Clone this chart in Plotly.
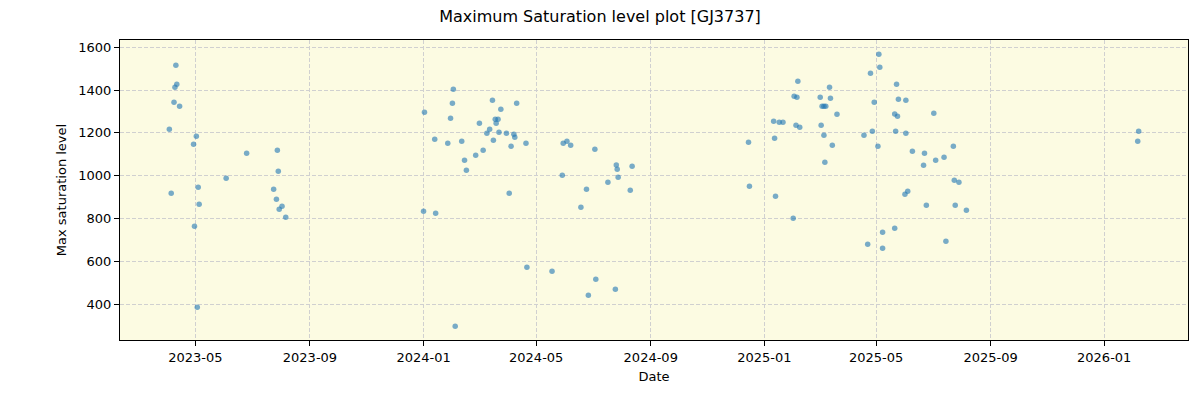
import plotly.graph_objects as go

dates = [
    "2023-04-10", "2023-04-11", "2023-04-09", "2023-04-08", "2023-04-14", "2023-04-03",
    "2023-05-02", "2023-04-29", "2023-06-25", "2023-07-28", "2023-07-29", "2023-06-03",
    "2023-05-04", "2023-04-05", "2023-07-24", "2023-07-27", "2023-05-05", "2023-08-02",
    "2023-07-30", "2023-08-06", "2023-04-30", "2023-05-03",
    "2024-02-02", "2024-02-01", "2024-03-15", "2024-04-10", "2024-01-02", "2024-03-24",
    "2024-01-30", "2024-03-01", "2024-03-18", "2024-03-21", "2024-03-19", "2024-03-12",
    "2024-03-09", "2024-03-22", "2024-03-30", "2024-04-07", "2024-04-08", "2024-01-13",
    "2024-02-11", "2024-01-27", "2024-03-16", "2024-04-20", "2024-04-04", "2024-03-05",
    "2024-02-26", "2024-02-14", "2024-02-16", "2024-04-02", "2024-01-01", "2024-01-14",
    "2024-04-21", "2024-05-18", "2024-02-04",
    "2024-05-30", "2024-06-03", "2024-06-07", "2024-07-03", "2024-07-26", "2024-07-27",
    "2024-08-12", "2024-05-29", "2024-07-28", "2024-07-17", "2024-06-24", "2024-08-10",
    "2024-06-18", "2024-07-04", "2024-07-25", "2024-06-26", "2024-12-15", "2024-12-16",
    "2025-05-04", "2025-05-05", "2025-04-25", "2025-02-06", "2025-03-12", "2025-02-02",
    "2025-02-05", "2025-03-02", "2025-03-13", "2025-04-29", "2025-03-04", "2025-03-06",
    "2025-03-08", "2025-03-20", "2025-01-11", "2025-01-17", "2025-01-21", "2025-02-04",
    "2025-02-08", "2025-03-03", "2025-04-27", "2025-04-18", "2025-03-06", "2025-01-12",
    "2025-03-15", "2025-05-03", "2025-03-07", "2025-01-13", "2025-02-01", "2025-04-22",
    "2025-05-23", "2025-05-25", "2025-06-02", "2025-07-02", "2025-05-21", "2025-05-24",
    "2025-05-22", "2025-06-02", "2025-07-23", "2025-06-09", "2025-06-22", "2025-07-13",
    "2025-07-04", "2025-06-21", "2025-07-24", "2025-07-29", "2025-06-04", "2025-06-01",
    "2025-06-24", "2025-07-25", "2025-08-06", "2025-05-21", "2025-05-08", "2025-07-15",
    "2025-05-08",
    "2026-02-07", "2026-02-06",
]

saturation = [
    1516, 1427, 1413, 1343, 1325, 1217,
    1185, 1147, 1105, 1119, 1021, 988,
    946, 918, 937, 890, 867, 858,
    844, 806, 764, 386,
    1404, 1339, 1353, 1339, 1297, 1311,
    1269, 1245, 1264, 1264, 1245, 1217,
    1198, 1203, 1198, 1194, 1180, 1170,
    1161, 1152, 1166, 1152, 1138, 1119,
    1096, 1072, 1026, 918, 834, 825,
    573, 554, 297,
    1152, 1161, 1142, 1124, 1050, 1030,
    1044, 1002, 993, 970, 937, 932,
    853, 517, 470, 442, 1156, 951,
    1567, 1507, 1479, 1441, 1413, 1371,
    1367, 1367, 1362, 1343, 1325, 1325,
    1325, 1287, 1255, 1250, 1250, 1236,
    1227, 1236, 1208, 1189, 1189, 1175,
    1142, 1138, 1063, 904, 802, 680,
    1427, 1357, 1353, 1292, 1289, 1278,
    1208, 1198, 1138, 1114, 1105, 1086,
    1072, 1049, 979, 970, 928, 914,
    862, 862, 839, 755, 736, 694,
    662,
    1208, 1161,
]

x_range = ["2023-02-09", "2026-04-01"]
y_range = [233, 1634]
y_ticks = [400, 600, 800, 1000, 1200, 1400, 1600]

font_family = "DejaVu Sans"

fig = go.Figure()
fig.add_trace(go.Scatter(
    x=dates, y=saturation, mode="markers",
    marker=dict(size=5.5, color="rgba(31,119,180,0.6)", line=dict(width=0)),
    showlegend=False,
))

fig.update_layout(
    width=1200, height=400,
    margin=dict(l=120, r=12, t=40, b=60),
    paper_bgcolor="white",
    plot_bgcolor="rgb(252,251,226)",
    font=dict(family=font_family, size=13, color="black"),
    title=dict(text="Maximum Saturation level plot [GJ3737]", x=0.5, xanchor="center",
               y=0.96, yanchor="middle", font=dict(size=16, family=font_family)),
)
fig.update_xaxes(
    range=x_range, type="date",
    tick0="2023-01-01", dtick="M4", tickformat="%Y-%m",
    showgrid=True, gridcolor="#d0d0d0", griddash="4px,2px", gridwidth=1,
    ticks="outside", ticklen=5, tickcolor="black", tickwidth=1,
    showline=True, linecolor="black", linewidth=1, mirror=True,
    zeroline=False,
    title=dict(text="Date", standoff=8, font=dict(size=13)),
    tickfont=dict(size=13),
)
fig.update_yaxes(
    range=y_range, tickvals=y_ticks,
    showgrid=True, gridcolor="#d0d0d0", griddash="4px,2px", gridwidth=1,
    ticks="outside", ticklen=5, tickcolor="black", tickwidth=1,
    showline=True, linecolor="black", linewidth=1, mirror=True,
    zeroline=False,
    title=dict(text="Max saturation level", standoff=8, font=dict(size=13)),
    tickfont=dict(size=13),
)

fig.write_html("out.html")
